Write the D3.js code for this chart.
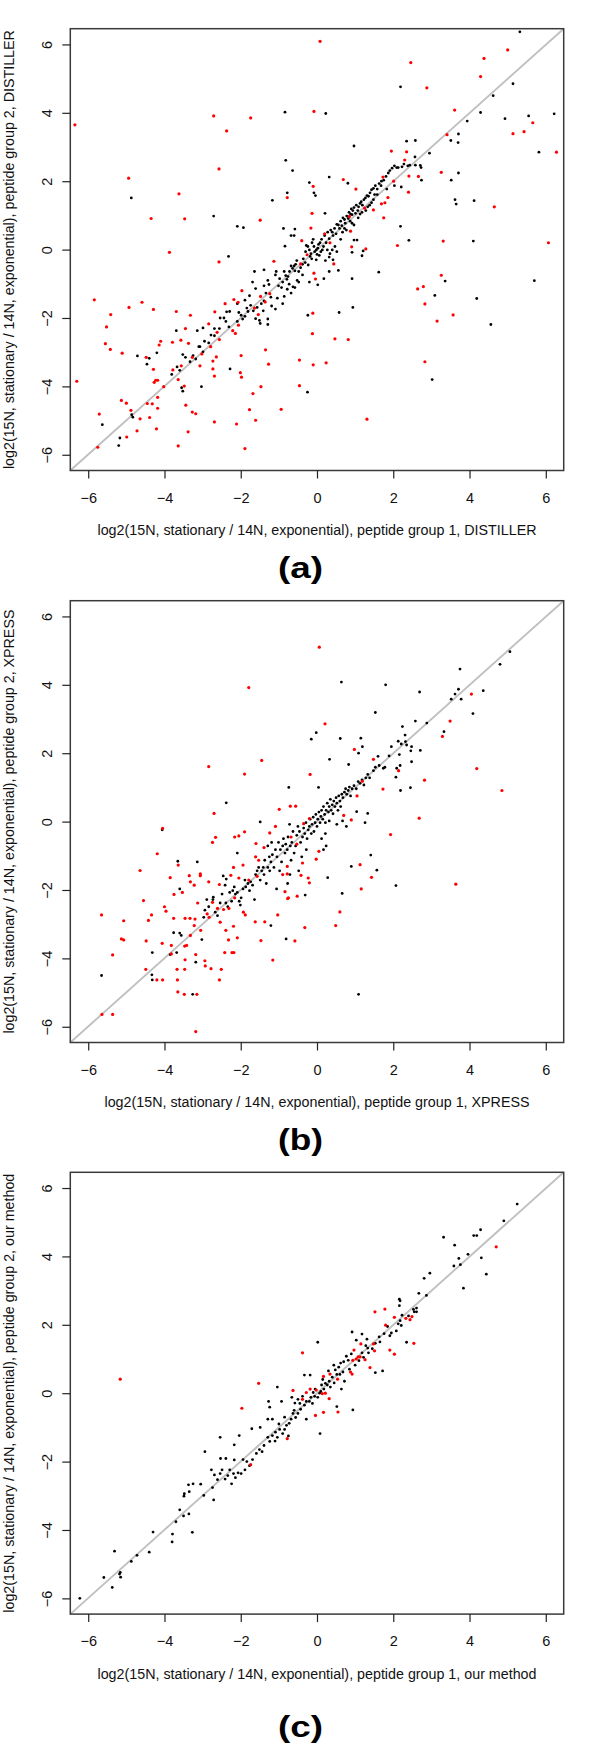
<!DOCTYPE html>
<html><head><meta charset="utf-8">
<script src="https://cdn.jsdelivr.net/npm/d3@7"></script>
<style>body{margin:0;background:#fff}svg{display:block}</style>
</head><body><svg id="chart" width="600" height="1750"></svg>
<script>
const tickValues=[-6,-4,-2,0,2,4,6];
const panelLetters=["(a)","(b)","(c)"];
const xTitles=["log2(15N, stationary / 14N, exponential), peptide group 1, DISTILLER","log2(15N, stationary / 14N, exponential), peptide group 1, XPRESS","log2(15N, stationary / 14N, exponential), peptide group 1, our method"];
const yTitles=["log2(15N, stationary / 14N, exponential), peptide group 2, DISTILLER","log2(15N, stationary / 14N, exponential), peptide group 2, XPRESS","log2(15N, stationary / 14N, exponential), peptide group 2, our method"];

const aRed=[[0.08,6.09],[5.0,5.84],[4.38,5.59],[2.46,5.47],[4.29,5.06],[2.88,4.73],[3.61,4.08],[-0.08,4.04],[-2.71,3.91],[-1.74,3.85],[-6.35,3.65],[-2.37,3.47],[3.41,3.36],[5.66,3.71],[5.43,3.45],[5.14,3.39],[6.28,2.85],[1.95,2.88],[2.35,2.86],[2.30,2.62],[-2.57,2.36],[3.26,2.26],[-4.94,2.09],[0.69,2.05],[1.73,2.12],[2.01,2.0],[2.66,2.14],[2.41,2.15],[1.02,1.77],[-0.1,1.85],[2.40,1.68],[-3.62,1.63],[-0.78,1.52],[1.86,1.52],[1.69,1.34],[1.78,1.37],[4.65,1.25],[-4.35,0.91],[-3.47,0.90],[-1.49,0.86],[1.48,1.16],[1.75,0.93],[0.85,0.97],[1.25,1.21],[-0.16,0.63],[0.88,0.54],[0.2,0.46],[6.07,0.2],[2.11,0.12],[3.31,0.25],[1.28,0.02],[0.91,0.08],[-3.87,-0.08],[-2.57,-0.36],[-1.13,-0.34],[-0.4,0.26],[-0.26,-0.15],[0.44,-0.42],[-0.43,-0.42],[0.34,0.2],[-0.08,-0.69],[-0.04,-0.86],[3.26,-0.75],[2.79,-1.08],[2.64,-1.15],[2.83,-1.59],[-5.84,-1.47],[-4.59,-1.54],[-4.93,-1.69],[-4.29,-1.75],[-5.41,-1.90],[-5.52,-2.26],[-3.69,-1.81],[-3.32,-1.92],[-1.97,-1.2],[-2.18,-1.46],[-2.07,-1.54],[-1.48,-1.37],[-1.24,-1.29],[-1.36,-1.53],[-1.64,-1.71],[-1.54,-1.9],[-2.06,-2.21],[-2.14,-2.45],[-2.21,-2.37],[-2.41,-1.58],[-2.68,-1.82],[-2.84,-2.17],[-2.62,-2.42],[-0.11,-1.86],[-0.12,-2.46],[0.47,-2.61],[0.82,-2.63],[3.57,-1.91],[3.15,-2.09],[2.83,-3.28],[-5.55,-2.75],[-5.42,-2.92],[-5.11,-3.03],[-4.14,-2.79],[-4.10,-2.68],[-3.79,-2.71],[-3.57,-2.65],[-3.37,-2.74],[-3.45,-2.31],[-3.02,-3.05],[-2.79,-2.84],[-2.64,-3.14],[-2.56,-2.63],[-1.99,-3.10],[-1.35,-2.93],[-1.27,-3.35],[-4.48,-3.15],[-4.29,-3.50],[-3.78,-3.52],[-3.64,-3.8],[-3.56,-3.4],[-3.27,-3.15],[-3.07,-3.40],[-2.73,-3.26],[-2.73,-3.49],[-2.69,-3.70],[-4.27,-3.88],[-4.23,-3.82],[-4.18,-3.82],[-4.02,-4.01],[-4.18,-4.32],[-4.18,-4.64],[-4.32,-4.51],[-4.45,-4.5],[-4.39,-4.91],[-4.21,-5.24],[-5.13,-4.41],[-5.0,-4.49],[-4.88,-4.7],[-4.64,-4.95],[-4.72,-5.30],[-4.99,-5.48],[-5.71,-4.81],[-5.75,-5.78],[-6.30,-3.85],[-3.48,-3.99],[-3.44,-4.55],[-3.27,-4.75],[-3.18,-4.80],[-3.38,-5.33],[-3.64,-5.74],[-2.69,-5.04],[-2.11,-5.10],[-1.89,-5.82],[-1.77,-4.68],[-1.68,-4.21],[-1.61,-4.99],[-1.47,-4.01],[-2.01,-3.60],[-1.98,-3.73],[-0.94,-4.67],[-0.46,-3.23],[-0.1,-3.37],[0.24,-3.31],[-0.46,-3.98],[1.31,-4.96],[-0.13,1.06]];

const aBlack=[[5.32,6.37],[5.14,4.85],[2.19,4.76],[4.62,4.50],[4.29,4.01],[6.22,3.97],[-0.84,4.02],[0.23,3.98],[5.55,3.91],[4.93,3.83],[3.94,3.76],[3.71,3.38],[3.70,3.13],[3.51,3.19],[2.35,3.17],[2.58,3.19],[0.97,3.03],[2.95,2.82],[5.82,2.85],[2.57,2.71],[-0.82,2.61],[-0.64,2.31],[3.71,2.24],[0.32,2.12],[3.52,2.03],[2.74,2.03],[0.81,1.94],[-0.20,1.96],[-4.87,1.51],[-1.17,1.44],[-0.78,1.66],[-0.08,1.66],[-0.04,1.58],[3.62,1.46],[3.65,1.33],[4.12,1.43],[-2.71,0.98],[-2.09,0.68],[-1.93,0.64],[0.21,1.06],[2.19,0.68],[2.41,0.27],[4.10,0.25],[-2.32,-0.20],[-0.84,0.10],[-0.60,0.41],[-0.58,0.60],[1.18,-0.18],[0.92,-0.85],[1.62,-0.66],[3.09,-1.34],[3.36,-0.92],[5.70,-0.91],[4.19,-1.43],[0.94,-1.69],[0.58,-1.84],[-0.24,-1.92],[4.56,-2.19],[3.02,-3.80],[-0.25,-4.17],[-3.03,-4.01],[-2.28,-3.49],[-4.71,-3.11],[-4.40,-3.18],[-4.46,-3.35],[-4.20,-3.02],[-3.69,-2.37],[-3.52,-3.07],[-3.81,-3.65],[-3.67,-3.43],[-3.55,-4.04],[-3.52,-4.14],[-4.86,-4.83],[-4.83,-4.90],[-5.63,-5.12],[-5.17,-5.51],[-5.20,-5.73],[2.13,2.40],[2.43,2.47],[2.58,2.47],[2.73,2.40],[2.71,2.46],[0.97,0.28],[1.05,0.28],[0.92,-0.08],[1.21,-0.04],
[-3.33,-3.28],[-3.18,-3.20],[-2.99,-2.99],[-3.07,-2.84],[-2.95,-2.68],[-3.14,-2.37],[-2.99,-2.29],[-2.78,-2.50],[-2.69,-2.31],[-2.56,-2.31],[-2.54,-2.0],[-2.39,-2.10],[-2.37,-1.82],[-2.31,-2.26],[-2.09,-2.10],[-2.05,-1.84],[-1.99,-1.92],[-1.89,-1.95],[-1.95,-2.03],[-1.81,-1.81],[-1.84,-1.71],[-1.74,-1.63],[-1.67,-1.79],[-1.61,-2.02],[-1.57,-1.69],[-1.51,-2.07],[-1.41,-1.79],[-1.46,-1.58],[-1.34,-1.27],[-1.29,-2.03],[-1.29,-2.19],[-1.19,-1.65],[-1.09,-1.74],[-1.04,-1.42],[-1.01,-1.06],[-0.93,-1.11],[-0.90,-0.95],[-0.86,-0.64],[-0.82,-0.76],[-0.79,-0.87],[-0.76,-0.79],[-0.72,-0.64],[-0.68,-0.48],[-0.64,-0.55],[-0.60,-0.48],[-0.56,-0.43],[-0.53,-0.32],[-0.48,-0.64],[-0.43,-0.53],[-0.38,-0.43],[-0.36,-0.27],[-0.30,-0.06],[-0.28,0.12],[-0.24,0.09],[-0.20,-0.01],[-0.16,-0.12],[-0.13,0.20],[-0.10,0.30],[-0.08,0.09],[-0.06,-0.06],[-0.02,-0.01],[0.0,-0.14],[0.02,0.04],[0.04,0.15],[0.08,0.20],[0.12,0.30],[0.17,0.09],[0.20,0.41],[0.24,0.20],[0.28,0.51],[0.32,0.32],[0.36,0.57],[0.40,0.51],[0.42,0.41],[0.46,0.62],[0.50,0.46],[0.52,0.74],[0.56,0.72],[0.59,0.62],[0.62,0.83],[0.65,0.70],[0.68,0.93],[0.72,0.88],[0.74,0.77],[0.78,0.98],[0.82,0.91],[0.84,1.09],[0.88,1.04],[0.90,1.19],[0.92,1.02],[0.94,1.14],[0.97,1.23],[1.01,1.06],[1.03,1.30],[1.07,1.14],[1.09,1.25],[1.13,1.35],[1.16,1.40],[1.19,1.30],[1.23,1.46],[1.27,1.51],[1.31,1.58],[1.35,1.56],[1.39,1.66],[1.43,1.75],[1.48,1.79],[1.53,1.87],[1.58,1.77],[1.63,1.93],[1.69,2.0],[1.75,2.03],[1.81,2.14],[1.87,2.24],[1.91,2.31],[1.97,2.38],[2.03,2.45],[2.09,2.40],[2.23,2.42],[2.28,2.50],[2.38,2.45],[1.68,1.87],[1.83,1.77],[2.03,1.87],[2.21,1.83],[0.52,-0.06],[0.42,-0.30],[0.56,-0.61],[0.32,-0.22],[0.22,-0.32],[0.32,-0.64],[0.18,-0.85],[0.02,-1.03],[-0.20,-0.95],[-0.38,-0.74],[-0.48,-0.95],[-0.58,-1.11],[-0.68,-1.27],[-0.86,-1.37],[-0.90,-1.58],[-1.21,-1.39],[-1.39,-1.50],[-1.49,-2.16],[-1.09,-0.74],[-1.07,-0.64],[-0.98,-0.85],[-1.26,-1.02],[-1.39,-1.06],[-1.29,-0.90],[-1.64,-0.64],[-1.39,-0.59],[-1.69,-0.95],[-1.61,-1.14],[-1.77,-1.35],[-1.89,-1.48],[-2.09,-1.58],[-2.29,-1.81],[-2.44,-2.0],[-2.69,-2.52],[-2.84,-2.73],[-3.10,-2.84],[-3.25,-3.10],[-3.45,-3.15],[-3.60,-3.53],[-0.78,-1.16],[-0.73,-1.01],[-0.63,-1.09],[-0.58,-0.62],[-0.52,-0.90],[-0.31,-0.38],[-0.23,-0.45],[-0.18,-0.20],[-0.14,-0.27],[-0.02,-0.30],[0.06,-0.17],[0.10,-0.06],[0.14,-0.01],[0.27,-0.01],[0.34,-0.12],[0.40,-0.01],[0.47,0.09],[0.62,0.30],[0.67,0.51],[0.72,0.62],[0.77,0.57],[0.87,0.83],[0.92,0.77],[0.97,0.72],[1.08,0.93],[1.13,1.04],[1.18,1.09],[1.28,1.14],[1.33,1.25],[1.38,1.30],[1.43,1.37],[1.48,1.46],[1.51,1.61],[1.58,1.61],[-0.88,0.62],[-0.68,0.41]];

const bRed=[[0.06,5.10],[-1.79,3.92],[4.05,3.73],[0.21,2.86],[3.49,2.94],[3.29,2.49],[-1.45,1.79],[-2.84,1.61],[-1.90,1.39],[-0.18,1.38],[1.48,1.82],[0.98,2.11],[4.19,1.55],[2.82,1.21],[2.14,1.49],[1.73,0.95],[1.05,0.75],[1.19,1.18],[4.85,0.91],[-2.70,0.24],[-0.99,0.36],[-0.70,0.45],[-0.56,0.45],[-0.20,0.09],[0.70,0.18],[0.90,0.05],[2.68,0.10],[-4.05,-0.20],[-2.66,-0.46],[-2.74,-0.61],[-2.16,-0.45],[-2.05,-0.42],[-1.90,-0.30],[-4.19,-0.94],[-1.60,-0.64],[-0.68,-0.45],[-0.53,-0.66],[0.05,-0.87],[-0.02,-1.10],[1.93,-0.38],[-4.64,-1.43],[-3.85,-1.64],[-3.64,-1.27],[-3.35,-1.58],[-3.32,-1.76],[-3.22,-1.86],[-3.06,-1.53],[-3.06,-1.58],[-3.75,-2.13],[-3.53,-2.07],[-4.55,-2.31],[-2.84,-1.76],[-2.56,-1.84],[-2.19,-1.34],[-2.26,-1.57],[-2.05,-1.65],[-1.94,-1.27],[-1.79,-1.71],[-1.57,-1.60],[-1.61,-1.03],[-1.53,-1.13],[-1.39,-0.76],[-1.24,-0.33],[-1.09,-0.14],[-0.90,-1.55],[-0.78,-1.53],[-0.78,-1.31],[-0.84,-2.05],[-0.75,-2.23],[-0.52,-2.18],[-0.42,-1.57],[-0.38,-1.21],[-0.35,-0.06],[-0.23,-1.65],[-0.20,-1.79],[1.16,-1.97],[1.13,-1.26],[1.43,-1.63],[3.64,-1.83],[-4.00,-2.49],[-3.96,-2.62],[-4.42,-2.89],[-4.34,-2.73],[-5.07,-2.90],[-5.65,-2.73],[-5.13,-3.43],[-5.07,-3.46],[-4.48,-3.49],[-4.06,-3.56],[-3.82,-3.62],[-3.76,-2.83],[-3.46,-2.83],[-3.33,-2.83],[-3.20,-2.85],[-3.32,-3.33],[-3.47,-3.64],[-3.42,-3.62],[-3.22,-3.04],[-3.18,-3.89],[-3.13,-2.38],[-3.05,-3.18],[-2.88,-2.70],[-2.83,-2.80],[-2.74,-2.36],[-2.61,-2.54],[-2.45,-2.57],[-2.54,-2.94],[-2.39,-3.18],[-2.19,-3.06],[-2.32,-3.46],[-2.42,-3.83],[-2.23,-3.83],[-2.18,-3.83],[-2.09,-3.40],[-2.31,-2.54],[-2.16,-2.23],[-1.93,-2.65],[-1.88,-2.73],[-1.62,-2.93],[-1.47,-3.48],[-1.37,-2.93],[-1.16,-4.05],[-1.03,-2.73],[-0.77,-2.25],[-0.58,-3.49],[-0.32,-3.10],[0.49,-3.04],[0.60,-2.64],[-5.64,-5.64],[-5.36,-5.64],[-5.36,-3.90],[-4.49,-4.32],[-4.20,-4.63],[-4.05,-4.63],[-3.67,-4.32],[-3.66,-4.63],[-3.46,-4.04],[-3.47,-4.32],[-3.65,-4.98],[-3.48,-5.05],[-3.15,-5.05],[-2.94,-4.07],[-2.93,-4.22],[-2.78,-4.30],[-2.51,-4.32],[-2.56,-4.63],[-3.18,-6.14],[-3.82,-3.87]];

const bBlack=[[5.06,4.97],[4.80,4.60],[3.75,4.46],[0.64,4.08],[1.80,4.0],[4.36,3.83],[2.69,3.79],[3.71,3.87],[3.62,3.73],[3.52,3.58],[3.78,3.58],[4.09,3.16],[1.53,3.19],[2.88,2.88],[2.58,2.94],[2.24,2.78],[3.33,2.63],[-0.02,2.60],[-0.15,2.41],[0.61,2.43],[1.15,2.44],[2.31,2.53],[2.32,2.34],[2.13,2.35],[2.21,2.27],[2.35,2.24],[2.48,2.19],[2.71,2.08],[2.46,2.07],[1.95,2.19],[2.48,1.75],[1.09,2.0],[1.19,2.19],[1.60,1.91],[1.89,1.92],[2.16,1.96],[2.18,1.64],[2.07,1.30],[2.19,0.91],[2.45,0.99],[2.09,1.56],[0.33,1.82],[0.83,1.67],[1.74,1.56],[0.04,1.0],[-0.74,1.0],[-2.38,0.55],[-1.49,-0.01],[1.04,0.29],[1.33,0.24],[1.26,-0.03],[1.41,-0.98],[1.57,-1.42],[0.90,-1.31],[0.28,-1.64],[0.66,-2.10],[2.07,-1.87],[1.09,-5.05],[-0.81,-3.43],[-1.21,-3.04],[-0.31,-2.15],[-0.77,-1.81],[-1.06,-1.97],[-4.06,-0.24],[-3.65,-1.16],[-3.14,-1.18],[-2.46,-1.59],[-2.38,-1.68],[-3.60,-1.97],[-3.76,-3.25],[-3.60,-3.26],[-3.56,-3.33],[-3.85,-3.89],[-3.68,-3.83],[-4.32,-3.83],[-4.33,-4.48],[-4.32,-4.63],[-5.65,-4.50],[-3.26,-5.05],[-3.18,-4.11],[-2.97,-2.80],[-2.94,-2.59],[-2.72,-2.21],[-3.02,-3.45],
[-2.89,-2.28],[-2.84,-2.49],[-2.73,-2.28],[-2.67,-2.65],[-2.61,-2.75],[-2.54,-2.38],[-2.49,-2.12],[-2.41,-1.86],[-2.39,-2.38],[-2.34,-2.49],[-2.29,-2.07],[-2.24,-2.33],[-2.21,-2.02],[-2.17,-1.91],[-2.14,-2.12],[-2.09,-2.07],[-2.04,-2.33],[-2.01,-2.44],[-1.99,-2.23],[-1.94,-1.97],[-1.89,-1.71],[-1.87,-1.91],[-1.81,-1.81],[-1.77,-2.02],[-1.74,-1.76],[-1.69,-1.86],[-1.64,-2.28],[-1.61,-1.55],[-1.57,-1.44],[-1.53,-1.34],[-1.49,-1.71],[-1.45,-1.44],[-1.41,-1.34],[-1.39,-1.55],[-1.37,-1.13],[-1.33,-1.81],[-1.29,-1.34],[-1.25,-1.03],[-1.21,-1.18],[-1.17,-0.97],[-1.13,-1.34],[-1.09,-0.82],[-1.05,-1.03],[-1.01,-0.61],[-0.96,-0.82],[-0.93,-1.18],[-0.90,-0.71],[-0.88,-0.50],[-0.84,-0.92],[-0.82,-0.66],[-0.78,-0.82],[-0.76,-0.45],[-0.72,-0.08],[-0.70,-0.71],[-0.66,-0.61],[-0.63,-0.29],[-0.60,-0.92],[-0.56,-0.71],[-0.53,-0.40],[-0.50,-0.14],[-0.46,-0.29],[-0.43,-0.61],[-0.40,-1.03],[-0.38,-0.45],[-0.35,-0.19],[-0.32,-0.35],[-0.29,-0.03],[-0.26,-0.50],[-0.23,-0.24],[-0.20,-0.14],[-0.18,0.07],[-0.15,-0.35],[-0.13,-0.08],[-0.10,0.13],[-0.08,-0.29],[-0.05,-0.03],[-0.03,0.21],[0.0,-0.14],[0.02,0.07],[0.05,0.28],[0.08,-0.03],[0.10,0.15],[0.12,0.33],[0.15,0.07],[0.17,0.44],[0.20,0.21],[0.22,-0.03],[0.24,0.33],[0.27,0.54],[0.30,0.28],[0.32,0.44],[0.35,0.65],[0.37,0.33],[0.40,0.49],[0.42,0.23],[0.44,0.60],[0.47,0.44],[0.50,0.70],[0.52,0.54],[0.55,0.33],[0.57,0.75],[0.60,0.60],[0.62,0.44],[0.65,0.80],[0.68,0.70],[0.72,0.86],[0.75,0.96],[0.78,0.80],[0.82,0.91],[0.85,1.01],[0.88,0.75],[0.92,0.96],[0.97,1.05],[1.03,0.96],[1.08,1.17],[1.13,1.12],[1.18,1.22],[1.23,1.07],[1.28,1.28],[1.33,1.38],[1.38,1.28],[1.48,1.49],[1.53,1.59],[1.63,1.64],[1.78,1.59],[0.52,-0.08],[0.67,0.02],[0.77,-0.14],[0.32,0.02],[0.22,-0.35],[0.12,-0.50],[0.24,-0.71],[0.17,-0.82],[-0.28,-0.82],[-0.68,-1.13],[-0.48,-1.44],[-0.71,-1.55],[-1.24,-1.44],[-0.98,-1.44],[-1.19,-0.61],[-1.29,-0.71],[-2.09,-0.92]];

const cRed=[[-5.16,0.41],[-1.53,0.29],[-1.97,-0.44],[-0.38,1.18],[-0.63,0.08],[-0.78,-1.33],[-1.74,-2.09],[4.70,4.28],[1.52,2.38],[1.78,2.46],[2.03,2.22],[2.33,2.19],[2.44,2.15],[2.49,2.24],[1.80,1.99],[2.54,1.46],[1.91,1.26],[2.03,1.14],[1.51,1.24],[1.48,1.44],[1.15,1.44],[0.97,1.26],[1.26,0.98],[1.39,0.75],[1.03,1.0],[0.94,0.96],[1.08,1.06],[0.92,0.56],[0.88,0.62],[0.54,0.41],[0.34,0.56],[0.17,0.49],[-0.02,0.09],[-0.28,0.02],[-0.18,0.12],[0.14,-0.01],[0.22,0.0],[0.32,-0.16],[0.17,-0.56],[-0.04,-0.65],[0.55,-0.55],[-0.38,-0.18],[1.13,1.06]];

const cBlack=[[5.25,5.53],[4.90,5.04],[4.29,4.78],[4.19,4.61],[4.11,4.61],[3.32,4.56],[3.61,4.33],[3.72,3.94],[4.31,3.96],[3.96,4.06],[3.59,3.72],[3.76,3.76],[4.44,3.48],[3.84,3.07],[2.96,3.51],[2.81,3.36],[2.87,2.86],[2.67,2.92],[2.16,2.75],[2.16,2.56],[2.61,2.49],[2.53,2.45],[2.61,2.38],[2.55,2.38],[2.40,2.26],[2.23,2.28],[2.18,2.12],[2.21,1.98],[2.13,2.03],[2.35,1.49],[2.08,1.82],[1.95,1.76],[1.91,1.68],[1.76,1.74],[1.63,1.65],[1.53,1.46],[1.53,0.60],[0.92,1.79],[1.03,1.55],[1.18,1.73],[1.31,1.58],[1.28,1.39],[1.33,1.32],[1.35,1.18],[1.18,1.18],[0.90,1.15],[0.77,1.08],[0.82,0.96],[0.70,0.92],[0.62,0.88],[0.57,0.76],[0.48,0.68],[0.44,0.82],[0.52,0.55],[0.40,0.47],[0.32,0.35],[0.27,0.24],[0.22,0.29],[0.18,0.12],[0.12,0.24],[0.07,0.0],[0.02,-0.12],[-0.06,-0.09],[-0.10,0.02],[-0.16,-0.12],[-0.20,-0.24],[-0.28,-0.24],[-0.33,-0.35],[-0.38,-0.09],[-0.43,-0.47],[-0.50,-0.59],[-0.56,-0.71],[-0.63,-0.59],[-0.68,-0.76],[-0.73,-0.88],[-0.80,-0.94],[-0.85,-1.06],[-0.90,-1.18],[-0.98,-1.06],[-1.04,-1.29],[-1.09,-1.14],[-1.17,-1.24],[-1.24,-1.41],[-1.29,-1.29],[-1.39,-1.53],[-1.44,-1.71],[-1.51,-1.65],[-1.59,-1.76],[-1.69,-1.94],[-1.77,-2.12],[-1.84,-2.0],[-1.89,-2.24],[-1.94,-1.94],[-1.99,-2.35],[-2.07,-2.33],[-2.14,-2.47],[-2.19,-2.35],[-2.24,-2.65],[-2.29,-2.24],[-2.34,-2.41],[-2.41,-2.51],[-2.49,-2.24],[-2.54,-2.35],[-2.61,-2.53],[-2.69,-2.39],[-2.77,-2.24],[-2.74,-2.76],[-2.71,-3.12],[-2.94,-1.71],[-2.54,-1.29],[-2.53,-1.91],[-2.39,-1.91],[-2.17,-1.51],[-2.04,-1.24],[-2.17,-1.95],[-1.71,-1.04],[-1.49,-1.0],[-1.27,-0.24],[-1.24,-0.41],[-1.04,0.18],[-1.29,-0.76],[-1.17,-0.76],[-0.93,-0.24],[-0.66,-0.12],[-0.50,-0.18],[-0.33,0.53],[-0.18,0.53],[0.02,1.49],[0.08,-1.18],[-0.28,-0.76],[-0.58,-0.29],[0.52,-0.39],[0.94,-0.49],[0.64,0.12],[0.72,0.35],[1.72,0.65],[2.18,2.70],[0.60,0.55],[0.68,0.62],[0.35,0.18],[0.45,0.30],[0.10,0.05],[-0.05,0.12],[-0.12,-0.30],[-0.45,-0.30],[-0.60,-0.50],[-0.85,-0.70],[-1.00,-0.90],[-1.10,-1.40],[-0.75,-1.25],[1.00,0.82],[1.10,0.95],[1.22,1.05],[1.45,1.30],[1.65,1.50],[1.85,1.95],[0.30,0.65],[0.15,0.40],[0.85,0.70],
[-2.97,-2.99],[-3.37,-2.68],[-3.35,-2.88],[-3.25,-2.65],[-3.05,-2.66],[-3.48,-2.94],[-3.49,-3.01],[-3.60,-3.41],[-3.36,-3.53],[-3.50,-3.59],[-3.70,-3.76],[-3.27,-4.07],[-3.79,-4.12],[-3.80,-4.35],[-4.30,-4.06],[-4.40,-4.65],[-4.72,-4.74],[-4.87,-4.92],[-5.31,-4.62],[-5.16,-5.24],[-5.18,-5.29],[-5.15,-5.38],[-5.59,-5.39],[-5.37,-5.68],[-6.22,-6.0]];

const layout=[{black:aBlack,red:aRed,top:28.7,labelY:567.5,xLen:439,yLen:439},{black:bBlack,red:bRed,top:600.7,labelY:1139,xLen:425,yLen:424},{black:cBlack,red:cRed,top:1172.3,labelY:1726,xLen:439,yLen:439}];
const plotH=441.8, left=70.3, right=563.7;
const fmt=d=>d<0?"\u2212"+Math.abs(d):String(d);
const font="'Liberation Sans', Arial, Helvetica, sans-serif";
const svg=d3.select("#chart");
svg.append("rect").attr("width",600).attr("height",1750).attr("fill","#fff");
const x=d3.scaleLinear().domain([-6.47,6.47]).range([left,right]);

layout.forEach((p,i)=>{
  const top=p.top, bottom=top+plotH;
  const y=d3.scaleLinear().domain([-6.46,6.46]).range([bottom,top]);
  const g=svg.append("g");
  g.append("line").attr("x1",x(-6.47)).attr("y1",y(-6.46)).attr("x2",x(6.47)).attr("y2",y(6.46))
    .attr("stroke","#c0c0c0").attr("stroke-width",1.9);
  g.append("g").selectAll("circle").data(p.black).join("circle")
    .attr("cx",d=>x(d[0])).attr("cy",d=>y(d[1])).attr("r",1.4).attr("fill","#000");
  g.append("g").selectAll("circle").data(p.red).join("circle")
    .attr("cx",d=>x(d[0])).attr("cy",d=>y(d[1])).attr("r",1.6).attr("fill","#ff0000");
  g.append("rect").attr("x",left).attr("y",top).attr("width",right-left).attr("height",plotH)
    .attr("fill","none").attr("stroke","#3a3a3a").attr("stroke-width",1.5);
  const xa=g.append("g").attr("transform",`translate(0,${bottom})`)
    .call(d3.axisBottom(x).tickValues(tickValues).tickSize(8).tickSizeOuter(0).tickFormat(fmt));
  xa.select(".domain").remove();
  xa.selectAll("line").attr("stroke","#222").attr("stroke-width",1.2);
  xa.selectAll("text").attr("y",27).attr("dy","0.35em").attr("fill","#111")
    .style("font-family",font).style("font-size","14.5px");
  const ya=g.append("g").attr("transform",`translate(${left},0)`)
    .call(d3.axisLeft(y).tickValues(tickValues).tickSize(8).tickSizeOuter(0).tickFormat(fmt));
  ya.select(".domain").remove();
  ya.selectAll("line").attr("stroke","#222").attr("stroke-width",1.2);
  ya.selectAll("text").attr("x",0).attr("y",0).attr("dy","0.35em").attr("text-anchor","middle")
    .attr("transform","translate(-23.6,0) rotate(-90)").attr("fill","#111")
    .style("font-family",font).style("font-size","14.5px");
  g.append("text").attr("x",(left+right)/2).attr("y",bottom+60).attr("dy","0.35em")
    .attr("text-anchor","middle").attr("fill","#111").style("font-family",font).style("font-size","14px")
    .attr("textLength",p.xLen).attr("lengthAdjust","spacingAndGlyphs")
    .text(xTitles[i]);
  g.append("text").attr("transform",`translate(9.5,${(top+bottom)/2}) rotate(-90)`).attr("dy","0.35em")
    .attr("text-anchor","middle").attr("fill","#111").style("font-family",font).style("font-size","14px")
    .attr("textLength",p.yLen).attr("lengthAdjust","spacingAndGlyphs")
    .text(yTitles[i]);
  g.append("text").attr("x",300.5).attr("y",p.labelY).attr("dy","0.35em").attr("text-anchor","middle")
    .attr("textLength",45).attr("lengthAdjust","spacingAndGlyphs")
    .style("font-family",font).style("font-size","30px").style("font-weight","bold").attr("fill","#000")
    .text(panelLetters[i]);
});
</script></body></html>
